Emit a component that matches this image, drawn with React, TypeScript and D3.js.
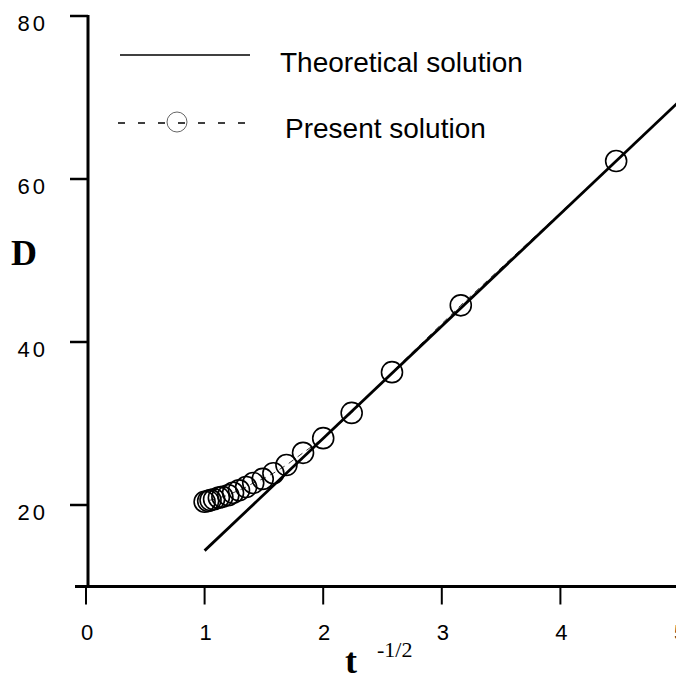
import React from "react";
import * as d3 from "d3";

const presentX = [4.47, 3.16, 2.58, 2.24, 2.0, 1.83, 1.69, 1.58, 1.49, 1.41, 1.35, 1.29, 1.24, 1.2, 1.15, 1.12, 1.08, 1.05, 1.03, 1.0];
const presentD = [62.2, 44.5, 36.3, 31.3, 28.2, 26.4, 24.9, 23.9, 23.2, 22.7, 22.2, 21.8, 21.5, 21.2, 21.0, 20.9, 20.7, 20.6, 20.5, 20.4];
const theoryX = [1, 5];
const theoryD = [14.4, 69.5];
const xTicks = [0, 1, 2, 3, 4, 5];
const yTicks = [20, 40, 60, 80];
const legendLabels = ["Theoretical solution", "Present solution"];

export default function App() {
  const W = 676, H = 674;
  const x = d3.scaleLinear().domain([0, 5]).range([86, 679]);
  const y = d3.scaleLinear().domain([10, 80]).range([586.5, 16]);
  const axisX = 88;
  const axisY = y(10);

  const line = d3.line<[number, number]>().x(d => x(d[0])).y(d => y(d[1]));
  const theoryPts = theoryX.map((v, i) => [v, theoryD[i]] as [number, number]);
  const presentPts = presentX.map((v, i) => [v, presentD[i]] as [number, number]);

  return (
    <svg width={W} height={H} style={{ position: "absolute", left: 0, top: 0, background: "#fff" }}>
      {/* axes */}
      <line x1={axisX} x2={axisX} y1={y(80) - 1} y2={axisY + 1.5} stroke="#000" strokeWidth={3} />
      <line x1={75} x2={W} y1={axisY} y2={axisY} stroke="#000" strokeWidth={3} />
      {yTicks.map(t => (
        <g key={"y" + t}>
          <line x1={70} x2={axisX} y1={y(t)} y2={y(t)} stroke="#000" strokeWidth={2.5} />
          <text x={48} y={y(t) + 14.5} textAnchor="end" fontFamily="Arial, 'Liberation Sans', sans-serif" fontSize={22} letterSpacing={3} fill="#000">{t}</text>
        </g>
      ))}
      {xTicks.map(t => (
        <g key={"x" + t}>
          <line x1={x(t)} x2={x(t)} y1={axisY} y2={axisY + 18} stroke="#000" strokeWidth={2} />
          <text x={x(t) + 1} y={640} textAnchor="middle" fontFamily="Arial, 'Liberation Sans', sans-serif" fontSize={22} fill="#000">{t}</text>
        </g>
      ))}
      {/* axis titles */}
      <text x={11} y={265} fontFamily="'Liberation Serif', 'Times New Roman', serif" fontWeight="bold" fontSize={36} fill="#000">D</text>
      <text x={345} y={673} fontFamily="'Liberation Serif', 'Times New Roman', serif" fontWeight="bold" fontSize={36} fill="#000">t</text>
      <text x={377} y={657} fontFamily="'Liberation Serif', 'Times New Roman', serif" fontSize={22} fill="#000">-1/2</text>

      {/* data */}
      <path d={line(presentPts) || ""} fill="none" stroke="#333" strokeWidth={1} strokeDasharray="6 5" />
      <path d={line(theoryPts) || ""} fill="none" stroke="#000" strokeWidth={2.8} />
      {presentPts.map((p, i) => (
        <circle key={i} cx={x(p[0])} cy={y(p[1])} r={10.5} fill="none" stroke="#000" strokeWidth={1.6} />
      ))}

      {/* legend */}
      <line x1={120} x2={250} y1={55} y2={55} stroke="#000" strokeWidth={1.5} />
      <text x={280} y={72} fontFamily="Arial, 'Liberation Sans', sans-serif" fontSize={28} fill="#000">{legendLabels[0]}</text>
      <line x1={118} x2={245} y1={123} y2={123} stroke="#000" strokeWidth={1.3} strokeDasharray="7 13" />
      <circle cx={177} cy={122} r={10} fill="none" stroke="#666" strokeWidth={1} />
      <text x={285} y={138} fontFamily="Arial, 'Liberation Sans', sans-serif" fontSize={28} fill="#000">{legendLabels[1]}</text>
    </svg>
  );
}
